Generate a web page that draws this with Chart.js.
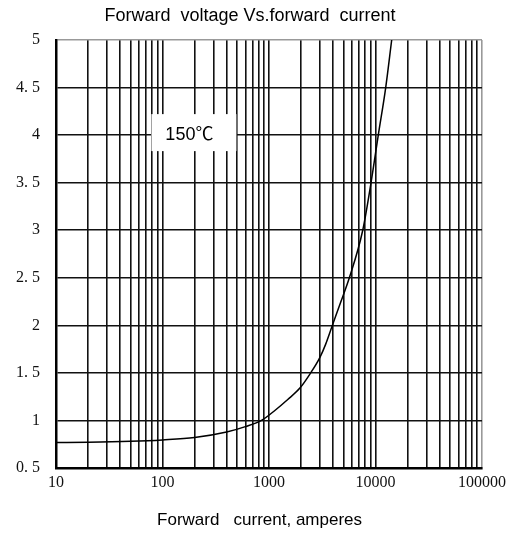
<!DOCTYPE html>
<html>
<head>
<meta charset="utf-8">
<script src="https://cdn.jsdelivr.net/npm/chart.js@4/dist/chart.umd.min.js"></script>
<style>
html,body{margin:0;padding:0;background:#fff;}
canvas{display:block;}
</style>
</head>
<body>
<canvas id="c" width="512" height="533"></canvas>
<script>
const chartTitle = 'Forward  voltage Vs.forward  current';
const xAxisTitle = 'Forward   current, amperes    ';
const curveLabel = '150℃';

const currentA = [10, 20, 50, 100, 200, 400, 600, 850, 1150, 1500, 1950, 2430, 3000, 3400, 3880, 4700, 5680, 7590, 9080, 10620, 12470, 14190];
const voltageV = [0.767, 0.77, 0.78, 0.795, 0.82, 0.878, 0.935, 1.0, 1.11, 1.22, 1.34, 1.49, 1.66, 1.8, 1.98, 2.24, 2.5, 3.0, 3.5, 4.0, 4.5, 5.0];

const xGridValues = [10,20,30,40,50,60,70,80,90,100,200,300,400,500,600,700,800,900,1000,2000,3000,4000,5000,6000,7000,8000,9000,10000,20000,30000,40000,50000,60000,70000,80000,90000,100000];
const xTickValues = [10, 100, 1000, 10000, 100000];
const xTickLabels = ['10', '100', '1000', '10000', '100000'];
const yTickValues = [0.5, 1, 1.5, 2, 2.5, 3, 3.5, 4, 4.5, 5];
const yTickLabels = ['0. 5', '1', '1. 5', '2', '2. 5', '3', '3. 5', '4', '4. 5', '5'];

const labelPlugin = {
  id: 'curveLabel',
  afterDatasetsDraw(chart) {
    const ctx = chart.ctx;
    const xs = chart.scales.x, ys = chart.scales.y;
    const cx = xs.getPixelForValue(195);
    const cy = ys.getPixelForValue(4);
    ctx.save();
    ctx.fillStyle = '#fff';
    ctx.fillRect(cx - 42, cy - 21, 85, 37);
    ctx.fillStyle = '#000';
    ctx.font = '18px "Liberation Sans", "Noto Sans CJK SC", sans-serif';
    ctx.textAlign = 'center';
    ctx.textBaseline = 'middle';
    ctx.fillText(curveLabel, cx - 4, cy);
    ctx.restore();
  }
};

new Chart(document.getElementById('c'), {
  type: 'line',
  data: {
    datasets: [{
      data: currentA.map((x, i) => ({x: x, y: voltageV[i]})),
      borderColor: '#000',
      borderWidth: 1.5,
      pointRadius: 0,
      cubicInterpolationMode: 'monotone',
      fill: false
    }]
  },
  plugins: [labelPlugin],
  options: {
    responsive: false,
    animation: false,
    devicePixelRatio: 1,
    layout: {padding: {left: 0, right: 12, top: 0, bottom: 0}},
    plugins: {
      legend: {display: false},
      tooltip: {enabled: false},
      title: {
        display: true,
        text: chartTitle,
        color: '#000',
        font: {family: '"Liberation Sans", Arial, sans-serif', size: 18, weight: 'normal', lineHeight: 1.2},
        padding: {top: 5, bottom: 13.4}
      }
    },
    scales: {
      x: {
        type: 'logarithmic',
        min: 10,
        max: 100000,
        afterBuildTicks: (s) => { s.ticks = xGridValues.map(v => ({value: v})); },
        afterFit: (s) => { s.height = 65; },
        ticks: {
          autoSkip: false,
          maxRotation: 0,
          padding: 5,
          color: '#111',
          font: {family: '"Liberation Serif", "DejaVu Serif", serif', size: 16},
          callback: (v) => { const i = xTickValues.indexOf(v); return i >= 0 ? xTickLabels[i] : ''; }
        },
        grid: {
          drawTicks: false,
          color: (c) => (c.tick && c.tick.value === 100000) ? '#999' : '#111',
          lineWidth: 1.6
        },
        border: {display: true, color: '#000', width: 2.5},
        title: {
          display: true,
          text: xAxisTitle,
          color: '#000',
          font: {family: '"Liberation Sans", Arial, sans-serif', size: 17},
          padding: {top: 4, bottom: 2}
        }
      },
      y: {
        type: 'linear',
        min: 0.5,
        max: 5,
        afterBuildTicks: (s) => { s.ticks = yTickValues.map(v => ({value: v})); },
        afterFit: (s) => { s.width = 56; },
        ticks: {
          padding: 16,
          color: '#111',
          font: {family: '"Liberation Serif", "DejaVu Serif", serif', size: 16},
          callback: (v) => { const i = yTickValues.indexOf(v); return i >= 0 ? yTickLabels[i] : ''; }
        },
        grid: {
          drawTicks: false,
          color: (c) => (c.tick && c.tick.value === 5) ? '#999' : '#111',
          lineWidth: 1.6
        },
        border: {display: true, color: '#000', width: 2.5}
      },
      yRight: {
        type: 'linear',
        position: 'right',
        display: true,
        min: 0.5,
        max: 5,
        afterFit: (s) => { s.width = 18; },
        ticks: {display: false},
        grid: {display: false, drawTicks: false},
        border: {display: false}
      }
    }
  }
});
</script>
</body>
</html>
